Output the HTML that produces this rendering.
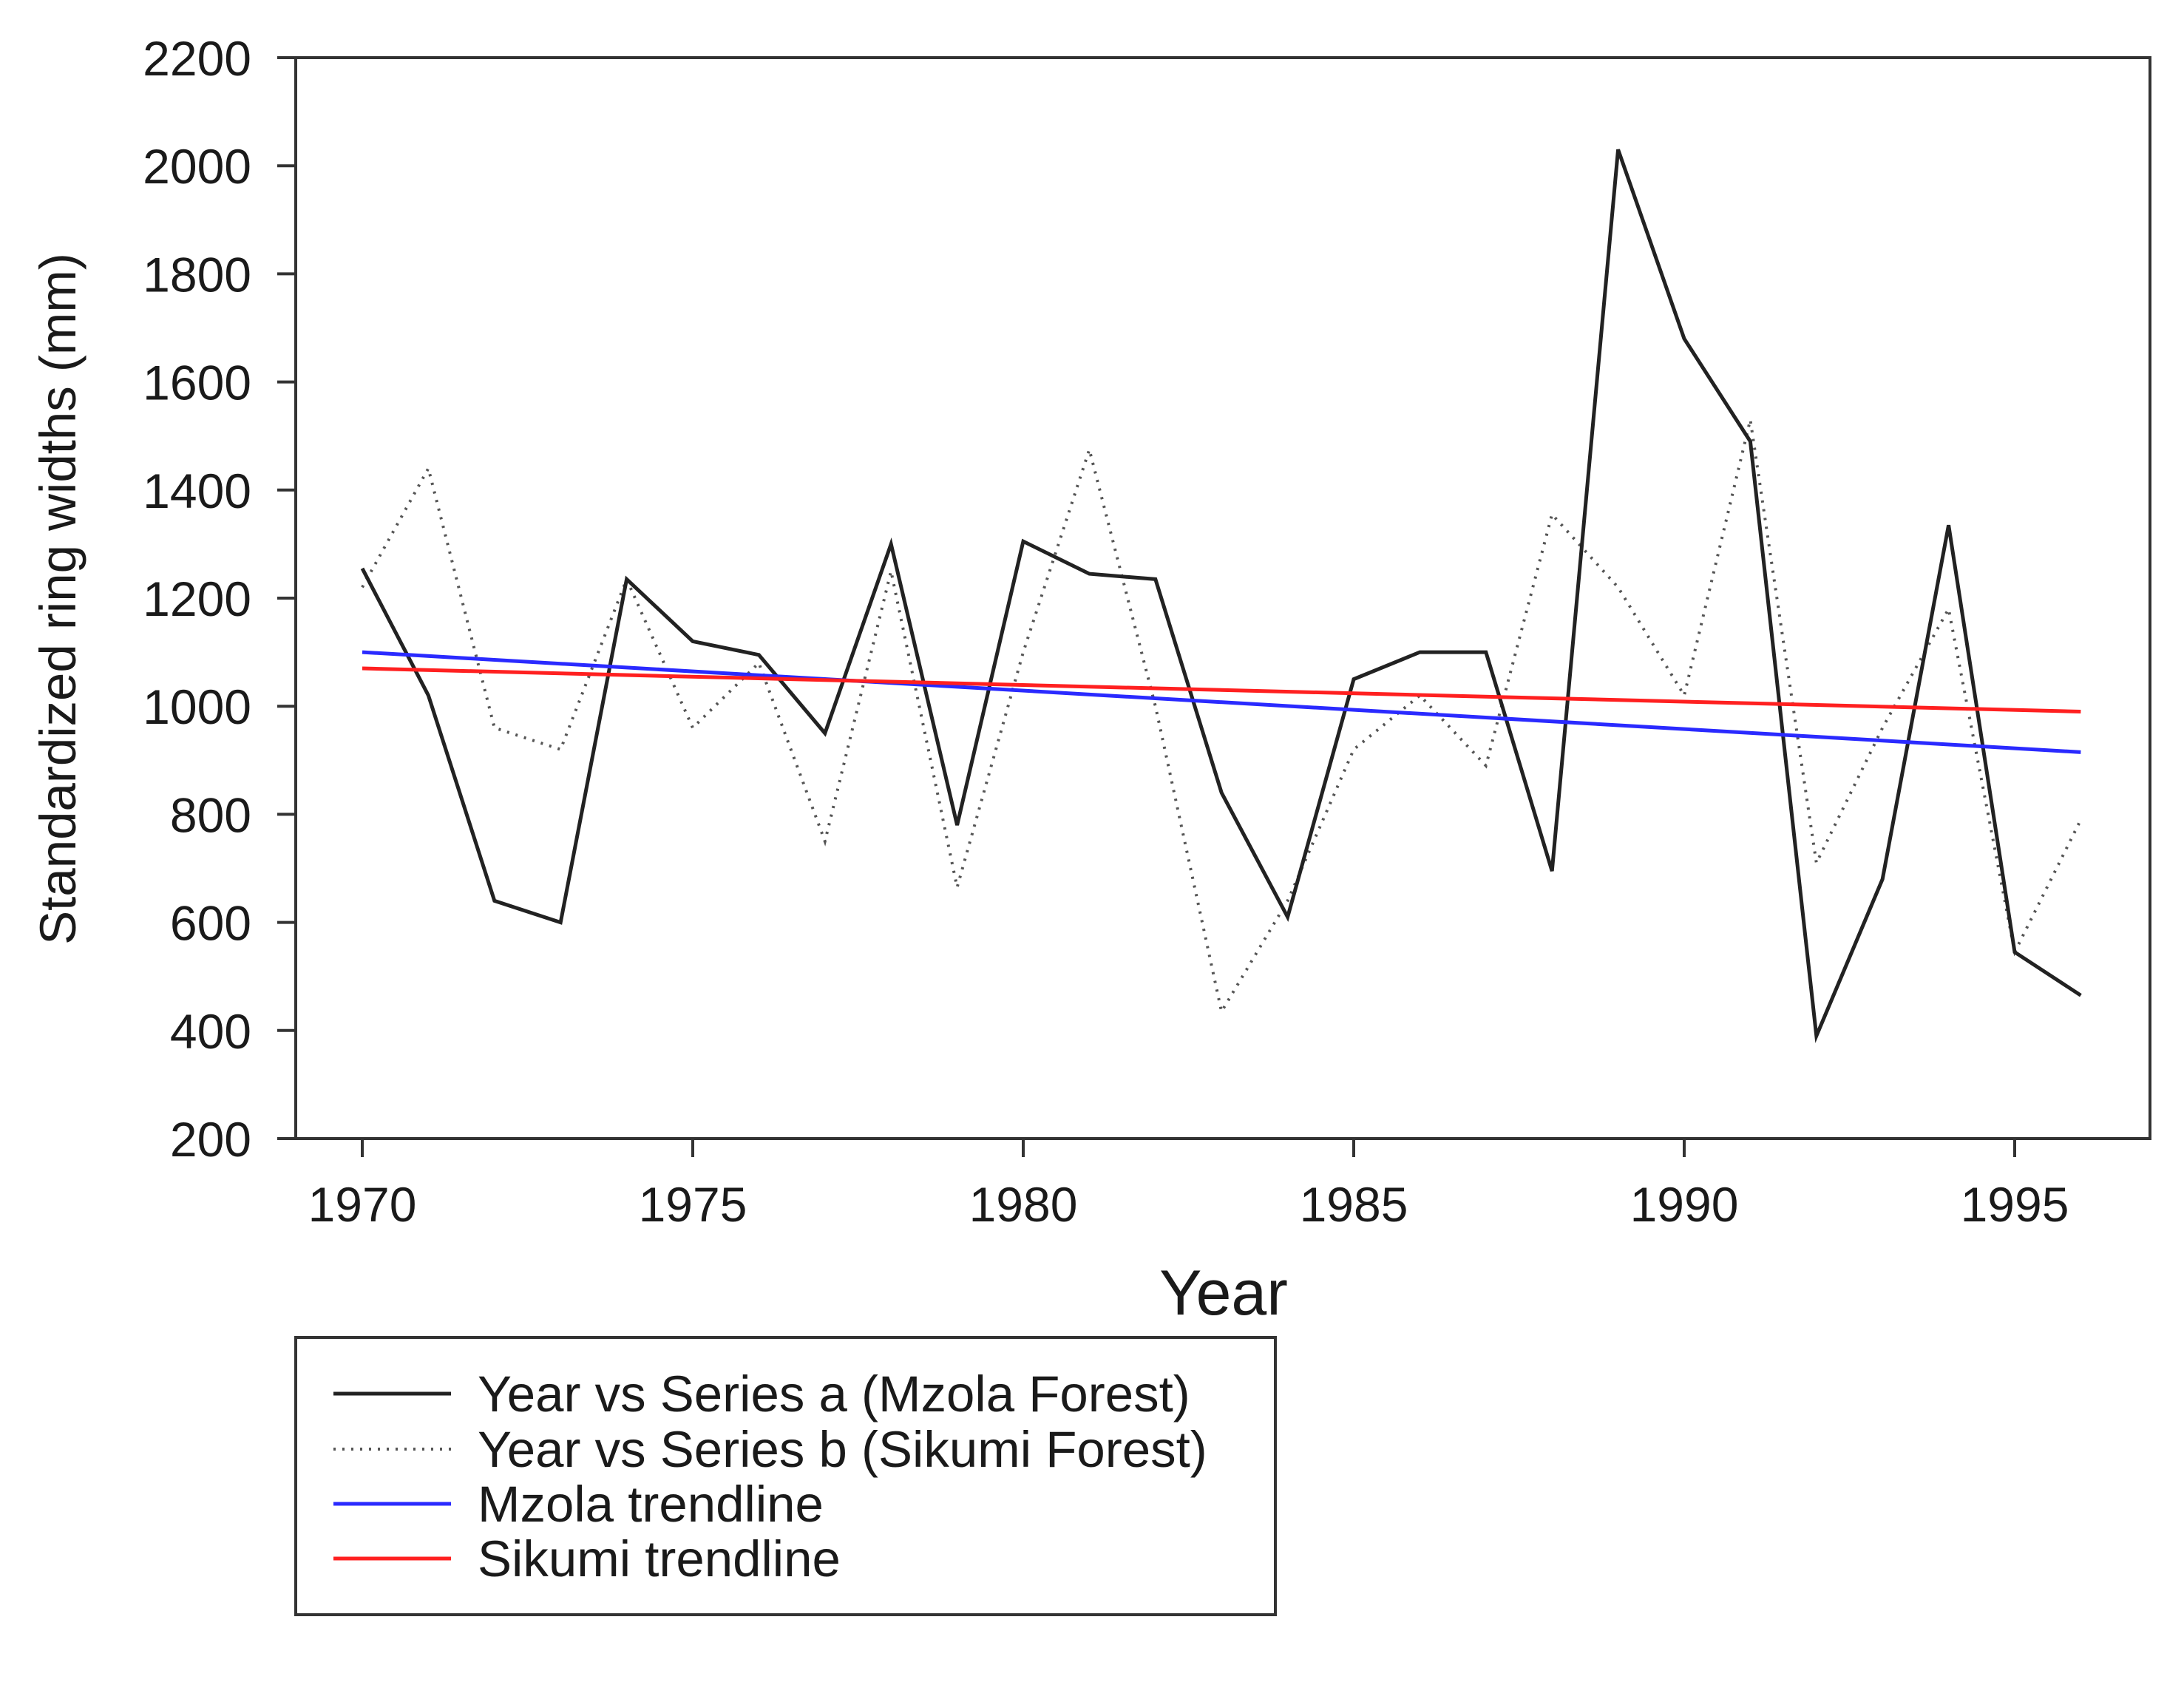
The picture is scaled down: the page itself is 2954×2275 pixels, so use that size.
<!DOCTYPE html>
<html><head><meta charset="utf-8"><style>
html,body{margin:0;padding:0;background:#fff;}
svg{display:block;}
text{font-family:"Liberation Sans",sans-serif;fill:#1a1a1a;}
</style></head><body>
<svg id="chart" width="2954" height="2275" viewBox="0 0 2954 2275">
<rect x="400" y="78" width="2508" height="1462" fill="none" stroke="#333" stroke-width="4"/>
<g id="ticks"></g>
<g id="series"></g>
<text x="1655" y="1778" font-size="86" text-anchor="middle">Year</text>
<text transform="translate(102,810) rotate(-90)" font-size="69" text-anchor="middle">Standardized ring widths (mm)</text>
<g>
<rect x="400" y="1809" width="1325" height="375" fill="#fff" stroke="#333" stroke-width="4"/>
<line x1="451" y1="1885" x2="610" y2="1885" stroke="#222" stroke-width="5"/>
<text x="646" y="1909" font-size="69">Year vs Series a (Mzola Forest)</text>
<line x1="451" y1="1960" x2="610" y2="1960" stroke="#555" stroke-width="4" stroke-dasharray="3,9"/>
<text x="646" y="1984" font-size="69">Year vs Series b (Sikumi Forest)</text>
<line x1="451" y1="2034" x2="610" y2="2034" stroke="#2a2aff" stroke-width="5"/>
<text x="646" y="2058" font-size="69">Mzola trendline</text>
<line x1="451" y1="2108" x2="610" y2="2108" stroke="#ff2020" stroke-width="5"/>
<text x="646" y="2132" font-size="69">Sikumi trendline</text>
</g>
</svg>
<script>
const years=[1970,1971,1972,1973,1974,1975,1976,1977,1978,1979,1980,1981,1982,1983,1984,1985,1986,1987,1988,1989,1990,1991,1992,1993,1994,1995,1996];
const mzola=[1255,1020,640,600,1235,1120,1095,950,1300,780,1305,1245,1235,840,610,1050,1100,1100,695,2030,1680,1490,390,680,1335,545,465];
const sikumi=[1220,1440,960,920,1235,960,1080,750,1250,665,1100,1475,1000,435,640,920,1020,890,1355,1220,1020,1530,710,960,1180,545,790];
const mzolaTrend=[1100,915];
const sikumiTrend=[1070,990];
const xTicks=[1970,1975,1980,1985,1990,1995];
const yTicks=[200,400,600,800,1000,1200,1400,1600,1800,2000,2200];
const NS='http://www.w3.org/2000/svg';
function X(v){return 490+(v-1970)*89.4;}
function Y(v){return 1540-(v-200)*(1462/2000);}
const tg=document.getElementById('ticks'), sg=document.getElementById('series');
function mk(tag,attrs,parent){const e=document.createElementNS(NS,tag);for(const k in attrs)e.setAttribute(k,attrs[k]);parent.appendChild(e);return e;}
xTicks.forEach(t=>{
  const l=mk('line',{x1:X(t),x2:X(t),y1:1540,y2:1565,stroke:'#333','stroke-width':4},tg);
  
  
  const tx=mk('text',{x:X(t),y:1652,'font-size':66,'text-anchor':'middle'},tg);
  tx.textContent=t;
  
  
});
yTicks.forEach(t=>{
  const l=mk('line',{x1:375,x2:400,y1:Y(t),y2:Y(t),stroke:'#333','stroke-width':4},tg);
  
  
  const tx=mk('text',{x:340,y:Y(t)+24,'font-size':66,'text-anchor':'end'},tg);
  tx.textContent=t;
  
  
});
function pts(arr){return arr.map((v,i)=>X(years[i])+','+Y(v)).join(' ');}
const pb=mk('polyline',{points:pts(sikumi),fill:'none',stroke:'#555','stroke-width':4,'stroke-dasharray':'3,9'},sg);


const pa=mk('polyline',{points:pts(mzola),fill:'none',stroke:'#222','stroke-width':5,'stroke-linejoin':'miter'},sg);


const y0=years[0],y1=years[years.length-1];
const tm=mk('line',{x1:X(y0),y1:Y(mzolaTrend[0]),x2:X(y1),y2:Y(mzolaTrend[1]),stroke:'#2a2aff','stroke-width':5},sg);


const ts=mk('line',{x1:X(y0),y1:Y(sikumiTrend[0]),x2:X(y1),y2:Y(sikumiTrend[1]),stroke:'#ff2020','stroke-width':5},sg);


</script>
</body></html>
